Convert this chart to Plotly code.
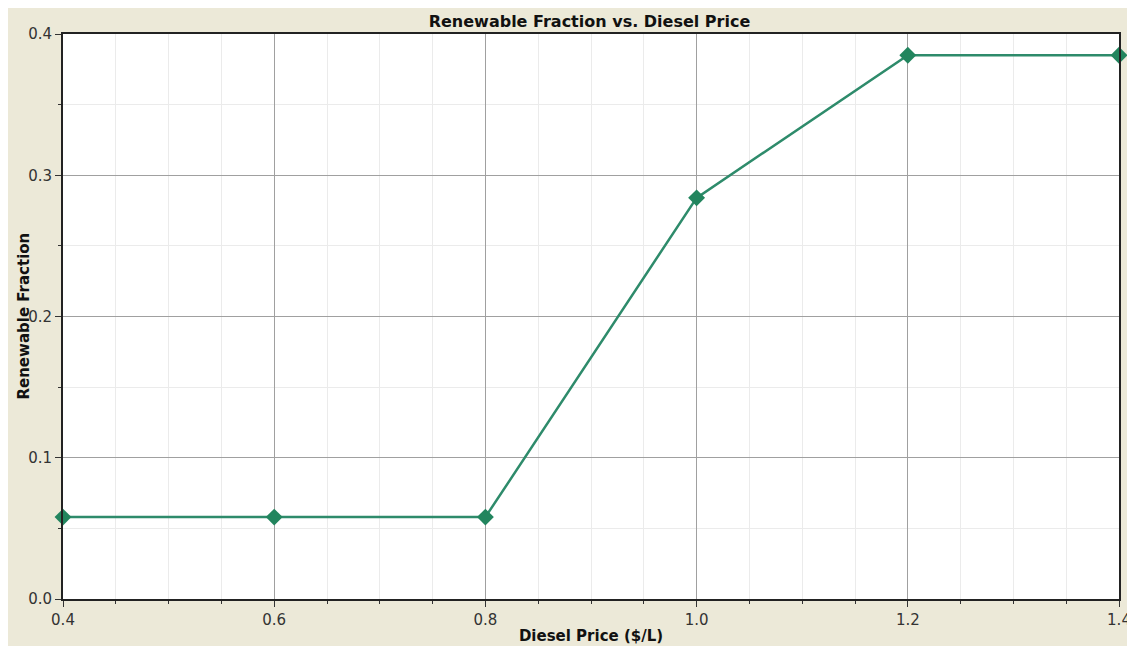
import plotly.graph_objects as go

diesel_price = [0.4, 0.6, 0.8, 1.0, 1.2, 1.4]
renewable_fraction = [0.058, 0.058, 0.058, 0.284, 0.385, 0.385]
x_ticks = [0.4, 0.6, 0.8, 1.0, 1.2, 1.4]
y_ticks = [0.0, 0.1, 0.2, 0.3, 0.4]

W, H = 1135, 646
L, T = 55, 26
R = W - 1112
B = H - 593
PW = W - L - R

tick_font = "DejaVu Sans, Verdana, sans-serif"
bold_font = "DejaVu Sans, Verdana, sans-serif"
beige = "#ECE9D8"

fig = go.Figure()
fig.add_trace(go.Scatter(
    x=diesel_price, y=renewable_fraction, mode="lines+markers",
    line=dict(color="#2E8B6B", width=2.5),
    marker=dict(symbol="diamond", size=13, color="#22855E"),
    showlegend=False, cliponaxis=False,
))

fig.update_layout(
    width=W, height=H,
    margin=dict(l=L, r=R, t=T, b=B),
    paper_bgcolor=beige,
    plot_bgcolor="white",
    title=dict(text="<b>Renewable Fraction vs. Diesel Price</b>",
               x=(582 - L) / PW, xref="paper", xanchor="center",
               y=1 - 13 / H, yanchor="middle",
               font=dict(family=bold_font, size=16, color="#111")),
    annotations=[dict(
        text="<b>Renewable Fraction</b>", textangle=-90,
        xref="paper", yref="paper", x=(15 - L) / PW, y=0.5,
        xanchor="center", yanchor="middle", showarrow=False,
        font=dict(family=bold_font, size=15, color="#111"),
    )],
)

common = dict(
    tickformat=".1f",
    showgrid=True, gridcolor="#a0a0a0", gridwidth=1,
    ticks="outside", ticklen=6, tickcolor="#333",
    showline=True, linecolor="#222", linewidth=2, mirror=True,
    zeroline=False,
    tickfont=dict(family=tick_font, size=15, color="#333"),
)

fig.update_xaxes(
    range=[0.4, 1.4], tickvals=x_ticks,
    minor=dict(dtick=0.05, showgrid=True, gridcolor="#ebebeb", ticks="outside", ticklen=3, tickcolor="#333"),
    title=dict(text="<b>Diesel Price ($/L)</b>", standoff=2,
               font=dict(family=bold_font, size=15, color="#111")),
    automargin=True,
    **common,
)
fig.update_yaxes(
    range=[0, 0.4], tickvals=y_ticks,
    minor=dict(dtick=0.05, showgrid=True, gridcolor="#ebebeb", ticks="outside", ticklen=3, tickcolor="#333"),
    automargin=False,
    **common,
)

fig.write_html("out.html")
